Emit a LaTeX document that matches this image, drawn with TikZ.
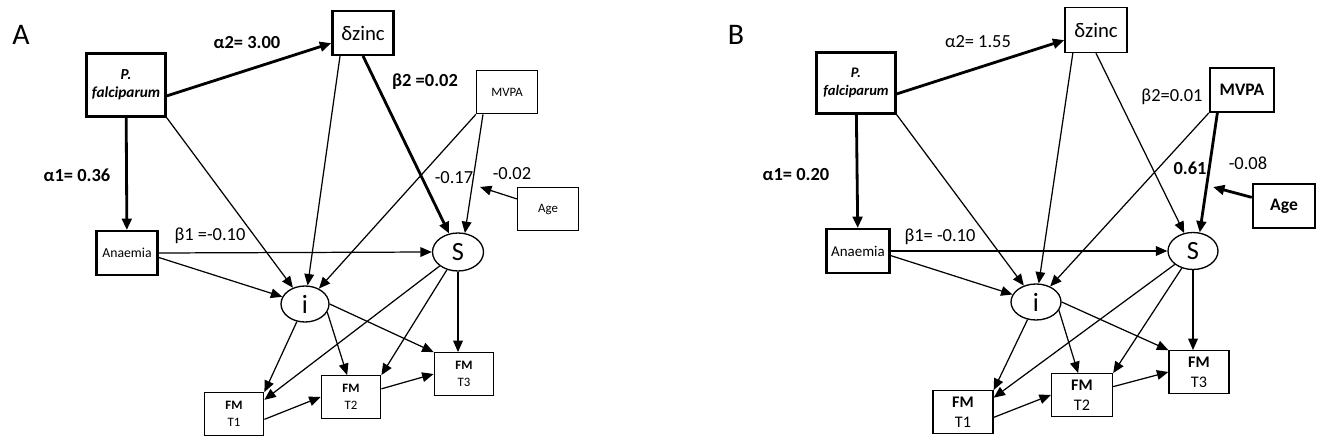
\documentclass[tikz,border=0pt]{standalone}
\usepackage{fontspec}
\setmainfont{Carlito}
\usetikzlibrary{arrows.meta,shapes.geometric}

\begin{document}
\begin{tikzpicture}[
        >={Triangle[length=6.5pt,width=5.5pt]},
        varbox/.style={rectangle, draw, line width=0.75pt, minimum width=1.22cm, minimum height=0.87cm, inner sep=1pt, align=center},
        keyvarbox/.style={varbox, line width=1.4pt},
        outcomebox/.style={varbox, minimum width=1.19cm, minimum height=0.85cm},
        latent/.style={ellipse, draw, line width=0.75pt, inner sep=0pt, font=\fontsize{15}{15}\selectfont},
        effect/.style={->, line width=0.7pt},
        maineffect/.style={->, line width=1.6pt},
        coef/.style={font=\fontsize{10.5}{12}\selectfont},
        boldcoef/.style={font=\fontsize{10.5}{12}\selectfont\bfseries},
        panel/.style={font=\fontsize{17}{17}\selectfont}
    ]
    \useasboundingbox (0,0) rectangle (26.5,8.86);

    % Panel A
    \node[panel] (labelA) at (0.42,8.16) {A};

    % Variables
    \node[keyvarbox, minimum width=1.58cm, minimum height=1.26cm, font=\fontsize{8.7}{10}\selectfont\bfseries\itshape] (pfA) at (2.52,7.16) {P.\\falciparum};
    \node[keyvarbox, font=\fontsize{11.8}{12}\selectfont] (zincA) at (7.26,8.20) {δzinc};
    \node[varbox, font=\fontsize{7.3}{9}\selectfont] (mvpaA) at (10.14,7.02) {MVPA};
    \node[varbox, font=\fontsize{7.3}{9}\selectfont] (ageA) at (10.96,4.68) {Age};
    \node[keyvarbox, font=\fontsize{7.8}{9}\selectfont] (anaemiaA) at (2.54,3.80) {Anaemia};
    \node[latent, minimum width=0.96cm, minimum height=0.72cm] (iA) at (6.10,2.78) {i};
    \node[latent, minimum width=1.02cm, minimum height=0.76cm] (sA) at (9.16,3.82) {S};
    \node[outcomebox, font=\fontsize{7.3}{9.5}\selectfont] (fm1A) at (4.68,0.58) {\textbf{FM}\\T1};
    \node[outcomebox, font=\fontsize{7.3}{9.5}\selectfont] (fm2A) at (7.02,0.92) {\textbf{FM}\\T2};
    \node[outcomebox, font=\fontsize{7.3}{9.5}\selectfont] (fm3A) at (9.28,1.38) {\textbf{FM}\\T3};
    \coordinate (modA) at (9.60,5.12);

    % Paths
    \draw[maineffect] (pfA.-15) -- (zincA);
    \draw[maineffect] (pfA) -- (anaemiaA);
    \draw[effect] (pfA.south east) -- (iA);
    \draw[effect] (zincA.-135) -- (iA);
    \draw[maineffect] (zincA.south) -- (sA);
    \draw[effect] (mvpaA.south west) -- (iA);
    \draw[effect] (mvpaA.-137) -- (sA.70);
    \draw[effect] (ageA) -- (modA);
    \draw[effect] (anaemiaA.east) -- (sA.west);
    \draw[effect] (anaemiaA.-8) -- (iA);
    \draw[effect] (iA) -- (fm1A.north east);
    \draw[effect] (iA.-20) -- (fm2A.100);
    \draw[effect] (iA.east) -- (fm3A.north west);
    \draw[effect] (sA) -- (fm1A.25);
    \draw[effect] (sA) -- (fm2A.north east);
    \draw[effect] (sA) -- (sA |- fm3A.north);
    \draw[effect] (fm1A.-10) -- (fm2A.west);
    \draw[effect] (fm2A.15) -- (fm3A.west);

    % Coefficients
    \node[boldcoef] (a2A) at (4.94,8.00) {α2= 3.00};
    \node[boldcoef] (a1A) at (1.54,5.36) {α1= 0.36};
    \node[coef] (b1A) at (4.20,4.14) {β1 =-0.10};
    \node[boldcoef] (b2A) at (8.50,7.22) {β2 =0.02};
    \node[coef] (mvA) at (9.08,5.30) {-0.17};
    \node[coef] (agA) at (10.24,5.38) {-0.02};

    % Panel B
    \node[panel] (labelB) at (14.72,8.16) {B};

    % Variables
    \node[keyvarbox, minimum width=1.58cm, minimum height=1.22cm, font=\fontsize{8.3}{10}\selectfont\bfseries\itshape] (pfB) at (17.12,7.20) {P.\\falciparum};
    \node[varbox, minimum width=1.24cm, minimum height=0.90cm, font=\fontsize{11.8}{12}\selectfont] (zincB) at (21.92,8.26) {δzinc};
    \node[keyvarbox, minimum width=1.28cm, font=\fontsize{10}{11}\selectfont\bfseries] (mvpaB) at (24.84,7.06) {MVPA};
    \node[keyvarbox, minimum width=1.24cm, font=\fontsize{10}{11}\selectfont\bfseries] (ageB) at (25.68,4.74) {Age};
    \node[keyvarbox, minimum width=1.26cm, font=\fontsize{8.5}{9}\selectfont] (anaemiaB) at (17.16,3.84) {Anaemia};
    \node[latent, minimum width=1.00cm, minimum height=0.72cm] (iB) at (20.72,2.82) {i};
    \node[latent, minimum width=1.00cm, minimum height=0.74cm] (sB) at (23.86,3.84) {S};
    \node[outcomebox, minimum width=1.20cm, font=\fontsize{9.2}{11.3}\selectfont] (fm1B) at (19.26,0.62) {\textbf{FM}\\T1};
    \node[outcomebox, minimum width=1.22cm, font=\fontsize{9.2}{11.3}\selectfont] (fm2B) at (21.64,0.96) {\textbf{FM}\\T2};
    \node[outcomebox, minimum width=1.20cm, font=\fontsize{9.2}{11.3}\selectfont] (fm3B) at (23.98,1.42) {\textbf{FM}\\T3};
    \coordinate (modB) at (24.26,5.12);

    % Paths
    \draw[maineffect] (pfB.-15) -- (zincB);
    \draw[maineffect] (pfB) -- (anaemiaB);
    \draw[effect] (pfB.south east) -- (iB);
    \draw[effect] (zincB.-135) -- (iB);
    \draw[effect] (zincB.south) -- (sB);
    \draw[effect] (mvpaB.south west) -- (iB);
    \draw[maineffect] (mvpaB.-137) -- (sB.70);
    \draw[maineffect] (ageB) -- (modB);
    \draw[effect] (anaemiaB.east) -- (sB.west);
    \draw[effect] (anaemiaB.-8) -- (iB);
    \draw[effect] (iB) -- (fm1B.north east);
    \draw[effect] (iB.-20) -- (fm2B.100);
    \draw[effect] (iB.east) -- (fm3B.north west);
    \draw[effect] (sB) -- (fm1B.25);
    \draw[effect] (sB) -- (fm2B.north east);
    \draw[effect] (sB) -- (sB |- fm3B.north);
    \draw[effect] (fm1B.-10) -- (fm2B.west);
    \draw[effect] (fm2B.15) -- (fm3B.west);

    % Coefficients
    \node[coef] (a2B) at (19.56,8.02) {α2= 1.55};
    \node[boldcoef] (a1B) at (15.92,5.36) {α1= 0.20};
    \node[coef] (b1B) at (18.80,4.12) {β1= -0.10};
    \node[coef] (b2B) at (23.44,6.92) {β2=0.01};
    \node[boldcoef] (mvB) at (23.80,5.50) {0.61};
    \node[coef] (agB) at (24.96,5.60) {-0.08};

\end{tikzpicture}
\end{document}
